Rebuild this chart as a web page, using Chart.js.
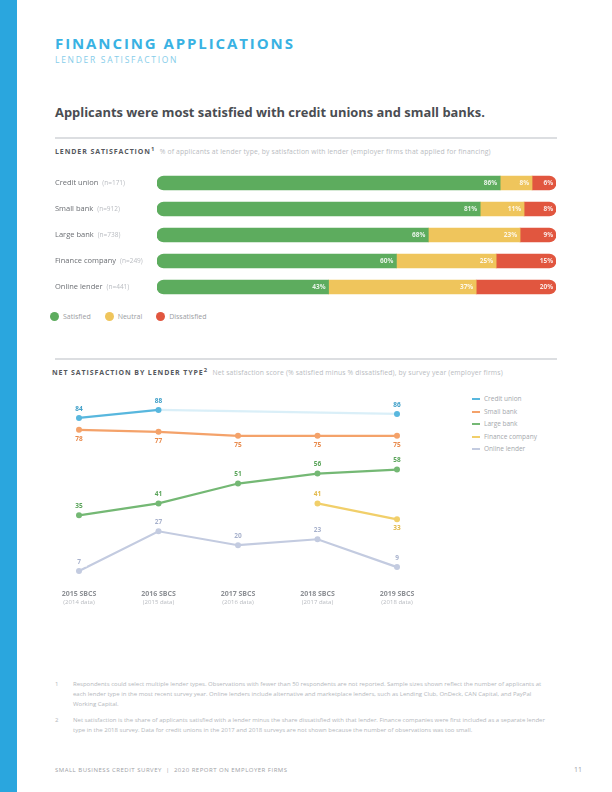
<!DOCTYPE html>
<html><head><meta charset="utf-8">
<script src="https://cdn.jsdelivr.net/npm/chart.js@4/dist/chart.umd.min.js"></script>
<style>
html,body{margin:0;padding:0;background:#fff;}
body{width:612px;height:792px;position:relative;overflow:hidden;font-family:"Open Sans",sans-serif;}
.abs{position:absolute;white-space:nowrap;}
#side{left:0;top:0;width:17px;height:792px;background:#2aa6de;}
#title{left:55px;top:33px;font-size:15px;font-weight:700;color:#39b2e3;letter-spacing:1.9px;}
#sub{left:55px;top:54px;font-size:8.5px;color:#86cdea;letter-spacing:1.7px;}
#head{left:55px;top:103px;font-size:12.9px;font-weight:700;color:#4a4d52;}
.rule{position:absolute;left:55px;width:502px;height:2px;background:#dcdee1;}
.sec{font-size:7px;font-weight:700;color:#55585d;letter-spacing:0.9px;}
.sec span{font-weight:400;color:#b9bcc1;letter-spacing:0.15px;font-size:6.8px;}
#leg1{left:50px;top:311px;font-size:7px;color:#9a9da2;}
#leg1 i{display:inline-block;width:9px;height:9px;border-radius:50%;vertical-align:middle;margin-right:4px;}
#leg1 b{font-weight:400;margin-right:14px;vertical-align:middle;}
#leg2{left:472px;top:393px;font-size:6.5px;color:#a4a7ac;line-height:12.5px;}
#leg2 div i{display:inline-block;width:8px;height:2px;vertical-align:middle;margin-right:4px;}
#foot{left:55px;top:679px;font-size:6px;color:#b4b7bc;line-height:10px;width:492px;white-space:normal;}
#foot div{position:relative;padding-left:18px;margin-bottom:6px;}
#foot div b{position:absolute;left:0;font-weight:400;}
#footer{left:55px;top:766px;font-size:6px;color:#9ea1a6;letter-spacing:0.5px;}
#page{left:574px;top:765px;font-size:7px;color:#9ea1a6;}
</style></head><body>
<div id="side" class="abs"></div>
<div id="title" class="abs">FINANCING APPLICATIONS</div>
<div id="sub" class="abs">LENDER SATISFACTION</div>
<div id="head" class="abs">Applicants were most satisfied with credit unions and small banks.</div>
<div class="rule" style="top:137px"></div>
<div class="abs sec" style="left:55px;top:145px">LENDER SATISFACTION<sup>1</sup> <span>&nbsp;% of applicants at lender type, by satisfaction with lender (employer firms that applied for financing)</span></div>
<div style="position:absolute;left:50px;top:170px;width:515px;height:130px"><canvas id="bar"></canvas></div>
<div id="leg1" class="abs"><i style="background:#5dac5e"></i><b>Satisfied</b><i style="background:#efc55c"></i><b>Neutral</b><i style="background:#e1563f"></i><b>Dissatisfied</b></div>
<div class="rule" style="top:358px"></div>
<div class="abs sec" style="left:52px;top:366px">NET SATISFACTION BY LENDER TYPE<sup>2</sup> <span>&nbsp;Net satisfaction score (% satisfied minus % dissatisfied), by survey year (employer firms)</span></div>
<div style="position:absolute;left:50px;top:392px;width:415px;height:218px"><canvas id="line"></canvas></div>
<div id="leg2" class="abs"></div>
<div id="foot" class="abs">
<div><b>1</b>Respondents could select multiple lender types. Observations with fewer than 50 respondents are not reported. Sample sizes shown reflect the number of applicants at each lender type in the most recent survey year. Online lenders include alternative and marketplace lenders, such as Lending Club, OnDeck, CAN Capital, and PayPal Working Capital.</div>
<div><b>2</b>Net satisfaction is the share of applicants satisfied with a lender minus the share dissatisfied with that lender. Finance companies were first included as a separate lender type in the 2018 survey. Data for credit unions in the 2017 and 2018 surveys are not shown because the number of observations was too small.</div>
</div>
<div id="footer" class="abs">SMALL BUSINESS CREDIT SURVEY &nbsp;|&nbsp; 2020 REPORT ON EMPLOYER FIRMS</div>
<div id="page" class="abs">11</div>
<script>
// ---- bar chart data ----
const lenders = ["Credit union", "Small bank", "Large bank", "Finance company", "Online lender"];
const lenderN = ["(n=171)", "(n=912)", "(n=738)", "(n=249)", "(n=441)"];
const satisfied = [86, 81, 68, 60, 43];
const neutral = [8, 11, 23, 25, 37];
const dissatisfied = [6, 8, 9, 15, 20];

// ---- line chart data ----
const years = ["2015", "2016", "2017", "2018", "2019"];
const yearLabels = ["2015 SBCS", "2016 SBCS", "2017 SBCS", "2018 SBCS", "2019 SBCS"];
const yearSub = ["(2014 data)", "(2015 data)", "(2016 data)", "(2017 data)", "(2018 data)"];
const seriesNames = ["Credit union", "Small bank", "Large bank", "Finance company", "Online lender"];
const netCreditUnion = [84, 88, null, null, 86];
const netSmallBank = [78, 77, 75, 75, 75];
const netLargeBank = [35, 41, 51, 56, 58];
const netFinanceCo = [null, null, null, 41, 33];
const netOnline = [7, 27, 20, 23, 9];

const barColors = ["#5dac5e", "#efc55c", "#e1563f"];
const lineColors = ["#58b7de", "#f4a26a", "#74b874", "#f1cf6a", "#c3cbe0"];
const labelColors = ["#3f9fc8", "#e88a4c", "#5aa45a", "#e2b94a", "#a7b1cc"];

const R = 7;
new Chart(document.getElementById("bar"), {
  type: "bar",
  data: {
    labels: lenders,
    datasets: [
      {data: satisfied, backgroundColor: barColors[0], borderSkipped: false, borderRadius: {topLeft: R, bottomLeft: R, topRight: 0, bottomRight: 0}},
      {data: neutral, backgroundColor: barColors[1], borderSkipped: false, borderRadius: 0},
      {data: dissatisfied, backgroundColor: barColors[2], borderSkipped: false, borderRadius: {topLeft: 0, bottomLeft: 0, topRight: R, bottomRight: R}}
    ]
  },
  options: {
    indexAxis: "y", responsive: true, maintainAspectRatio: false, animation: false,
    layout: {padding: {left: 107, right: 9, top: 0, bottom: 0}},
    datasets: {bar: {barThickness: 14}},
    scales: {
      x: {stacked: true, min: 0, max: 100, display: false},
      y: {stacked: true, display: false}
    },
    plugins: {legend: {display: false}, tooltip: {enabled: false}}
  },
  plugins: [{
    id: "barText",
    afterDatasetsDraw(chart) {
      const ctx = chart.ctx;
      const ys = chart.scales.y;
      ctx.save();
      ctx.textBaseline = "middle";
      lenders.forEach((name, i) => {
        const y = ys.getPixelForValue(i);
        ctx.font = "7.5px 'Open Sans'";
        ctx.fillStyle = "#6b6e73";
        ctx.textAlign = "left";
        ctx.fillText(name, 5, y);
        const w = ctx.measureText(name).width;
        ctx.font = "6.5px 'Open Sans'";
        ctx.fillStyle = "#b9bcc1";
        ctx.fillText(lenderN[i], 5 + w + 4, y);
      });
      ctx.font = "bold 6.5px 'Open Sans'";
      ctx.textAlign = "right";
      chart.data.datasets.forEach((ds, di) => {
        const meta = chart.getDatasetMeta(di);
        meta.data.forEach((el, i) => {
          ctx.fillStyle = "rgba(255,255,255,0.85)";
          ctx.fillText(ds.data[i] + "%", el.x - 3, el.y);
        });
      });
      ctx.restore();
    }
  }]
});

const lineData = [netCreditUnion, netSmallBank, netLargeBank, netFinanceCo, netOnline];
const labelPos = [[-1,-1,-1,-1,-1],[1,1,1,1,1],[-1,-1,-1,-1,-1],[-1,-1,-1,-1,1],[-1,-1,-1,-1,-1]];
const lineSets = lineData.map((d, i) => ({
  label: seriesNames[i], data: d, borderColor: lineColors[i], backgroundColor: lineColors[i],
  borderWidth: 2.2, pointRadius: 3, pointBorderWidth: 0, spanGaps: false
}));
// faint connector across the credit-union gap years
lineSets.push({
  label: "gap", data: netCreditUnion.map((v, i) => (i === 0 ? null : v)),
  borderColor: "rgba(88,183,222,0.22)", borderWidth: 2.2, pointRadius: 0, spanGaps: true, isGap: true
});
new Chart(document.getElementById("line"), {
  type: "line",
  data: {labels: years, datasets: lineSets},
  options: {
    responsive: true, maintainAspectRatio: false, animation: false,
    layout: {padding: {left: 29, right: 68, top: 3, bottom: 25}},
    scales: {
      x: {display: false, offset: false},
      y: {display: false, min: 0, max: 95}
    },
    plugins: {legend: {display: false}, tooltip: {enabled: false}}
  },
  plugins: [{
    id: "lineText",
    afterDatasetsDraw(chart) {
      const ctx = chart.ctx;
      ctx.save();
      ctx.textAlign = "center";
      ctx.textBaseline = "middle";
      chart.data.datasets.forEach((ds, di) => {
        if (ds.isGap) return;
        chart.getDatasetMeta(di).data.forEach((pt, i) => {
          const v = ds.data[i];
          if (v === null) return;
          const dy = labelPos[di][i] * 9;
          ctx.fillStyle = "rgba(255,255,255,0.8)";
          ctx.fillRect(pt.x - 8, pt.y + dy - 4.5, 16, 9);
          ctx.font = "bold 6.5px 'Open Sans'";
          ctx.fillStyle = labelColors[di];
          ctx.fillText(v, pt.x, pt.y + dy);
        });
      });
      const xs = chart.scales.x;
      const bottom = chart.chartArea.bottom;
      years.forEach((y, i) => {
        const x = xs.getPixelForValue(i);
        ctx.font = "bold 7px 'Open Sans'";
        ctx.fillStyle = "#8d9095";
        ctx.fillText(yearLabels[i], x, bottom + 9);
        ctx.font = "6px 'Open Sans'";
        ctx.fillStyle = "#b8bbc0";
        ctx.fillText(yearSub[i], x, bottom + 17);
      });
      ctx.restore();
    }
  }]
});

const leg2 = document.getElementById("leg2");
seriesNames.forEach((n, i) => {
  const d = document.createElement("div");
  d.innerHTML = '<i style="background:' + lineColors[i] + '"></i>' + n;
  leg2.appendChild(d);
});
</script>
</body></html>
